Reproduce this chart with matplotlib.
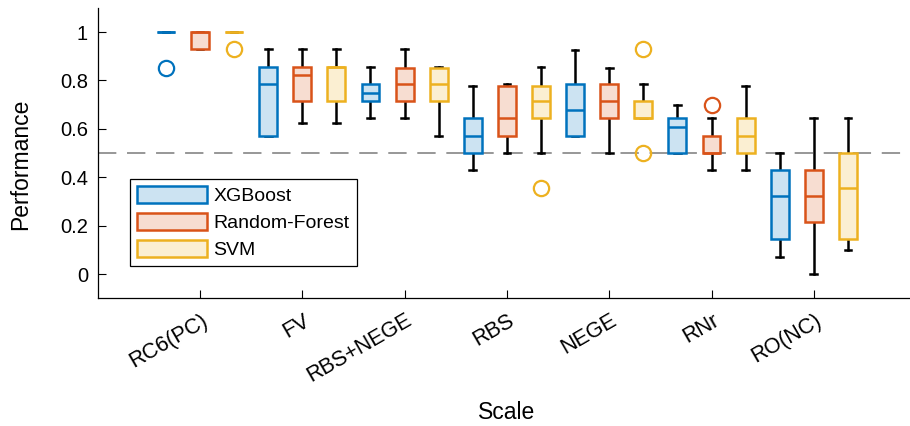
import matplotlib
matplotlib.use("Agg")
import matplotlib.pyplot as plt
import matplotlib.transforms as mtransforms
from matplotlib.patches import Patch

plt.rcParams['font.family'] = ['Liberation Sans', 'DejaVu Sans']

categories = ['RC6(PC)', 'FV', 'RBS+NEGE', 'RBS', 'NEGE', 'RNr', 'RO(NC)']
methods = ['XGBoost', 'Random-Forest', 'SVM']

# five-number summaries per category: [whislo, q1, med, q3, whishi]
xgb_stats = [
    [1.0, 1.0, 1.0, 1.0, 1.0],
    [0.571, 0.571, 0.786, 0.857, 0.929],
    [0.643, 0.714, 0.75, 0.786, 0.857],
    [0.429, 0.5, 0.571, 0.643, 0.775],
    [0.571, 0.571, 0.679, 0.786, 0.925],
    [0.5, 0.5, 0.607, 0.643, 0.7],
    [0.071, 0.143, 0.321, 0.429, 0.5],
]
xgb_fliers = [[0.85], [], [], [], [], [], []]

rf_stats = [
    [0.929, 0.929, 1.0, 1.0, 1.0],
    [0.625, 0.714, 0.821, 0.857, 0.929],
    [0.643, 0.714, 0.786, 0.85, 0.929],
    [0.5, 0.571, 0.643, 0.775, 0.786],
    [0.5, 0.643, 0.714, 0.786, 0.85],
    [0.429, 0.5, 0.5, 0.571, 0.643],
    [0.0, 0.214, 0.321, 0.429, 0.643],
]
rf_fliers = [[], [], [], [], [], [0.7], []]

svm_stats = [
    [1.0, 1.0, 1.0, 1.0, 1.0],
    [0.625, 0.714, 0.857, 0.857, 0.929],
    [0.571, 0.714, 0.786, 0.85, 0.857],
    [0.5, 0.643, 0.714, 0.775, 0.857],
    [0.643, 0.643, 0.643, 0.714, 0.786],
    [0.429, 0.5, 0.571, 0.643, 0.775],
    [0.1, 0.143, 0.357, 0.5, 0.643],
]
svm_fliers = [[0.929], [], [], [0.357], [0.929, 0.5], [], []]

edge_colors = ['#0072BD', '#D95319', '#EDB120']
face_colors = ['#CCE3F2', '#F7DDD1', '#FBEFD2']
offsets = [-1/3, 0, 1/3]

fig = plt.figure(figsize=(9.1, 4.26), dpi=100)
ax = fig.add_axes([97.7/910, 1 - 298.2/426, 818.4/910, 290.4/426])

ax.axhline(0.5, color='#7a7a7a', lw=1.1, linestyle=(0, (12, 7)), zorder=1)

all_stats = [xgb_stats, rf_stats, svm_stats]
all_fliers = [xgb_fliers, rf_fliers, svm_fliers]
for k in range(3):
    stats = []
    for s, f in zip(all_stats[k], all_fliers[k]):
        stats.append(dict(whislo=s[0], q1=s[1], med=s[2], q3=s[3], whishi=s[4], fliers=f))
    pos = [i + 1 + offsets[k] for i in range(len(categories))]
    ax.bxp(stats, positions=pos, widths=0.175, capwidths=0.065, patch_artist=True,
           boxprops=dict(facecolor=face_colors[k], edgecolor=edge_colors[k], lw=1.8, zorder=3),
           medianprops=dict(color=edge_colors[k], lw=1.8, zorder=4),
           whiskerprops=dict(color='black', lw=1.8, zorder=2),
           capprops=dict(color='black', lw=1.8, zorder=2),
           flierprops=dict(marker='o', markersize=11, markerfacecolor='none',
                           markeredgecolor=edge_colors[k], markeredgewidth=1.6))

ax.set_xlim(0, 8)
ax.set_ylim(-0.1, 1.1)
ax.set_xticks(range(1, len(categories) + 1))
ax.set_xticklabels(categories, rotation=30, ha='right', va='center', rotation_mode='anchor')
ax.set_yticks([0, 0.2, 0.4, 0.6, 0.8, 1])
ax.set_yticklabels(['0', '0.2', '0.4', '0.6', '0.8', '1'])
ax.tick_params(axis='both', direction='in', length=5.5, width=0.8, labelsize=14.5)
ax.tick_params(axis='x', pad=15, labelsize=15.5)
ax.tick_params(axis='y', pad=7)
# nudge rotated labels a bit to the right, like the original
shift = mtransforms.ScaledTranslation(6/100, 0, fig.dpi_scale_trans)
for lbl in ax.get_xticklabels():
    lbl.set_transform(lbl.get_transform() + shift)
ax.spines['top'].set_visible(False)
ax.spines['right'].set_visible(False)
for sp in ['left', 'bottom']:
    ax.spines[sp].set_linewidth(0.9)

ax.set_ylabel('Performance', fontsize=16.5)
ax.set_xlabel('Scale', fontsize=16.5)
ax.yaxis.set_label_coords(-0.08, 0.46)
ax.xaxis.set_label_coords(0.5, -0.355)

handles = [Patch(facecolor=face_colors[k], edgecolor=edge_colors[k], lw=1.8) for k in range(3)]
leg = ax.legend(handles, methods, loc='upper left', bbox_to_anchor=(130/910, 1 - 179/426),
                bbox_transform=fig.transFigure, borderaxespad=0, fontsize=14,
                handlelength=3.6, handleheight=1.0, handletextpad=0.35, labelspacing=0.4,
                borderpad=0.35, fancybox=False, framealpha=1)
leg.get_frame().set_edgecolor('black')
leg.get_frame().set_linewidth(0.9)

fig.savefig('out.png', dpi=100)
